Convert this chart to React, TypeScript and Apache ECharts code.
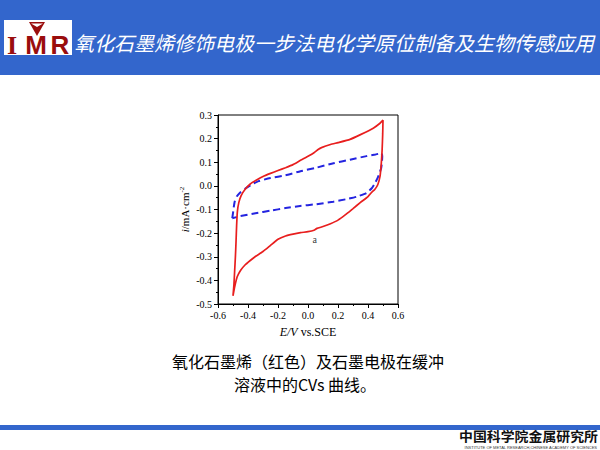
import React, { useEffect, useRef } from "react";
import * as echarts from "echarts";

const titleText = "氧化石墨烯修饰电极一步法电化学原位制备及生物传感应用";
const captionLines = ["氧化石墨烯（红色）及石墨电极在缓冲", "溶液中的CVs 曲线。"];
const footerCn = "中国科学院金属研究所";
const footerEn = "INSTITUTE OF METAL RESEARCH,CHINESE ACADEMY OF SCIENCES";
const logoLetters = ["I", "M", "R"];

const xMin = -0.6;
const xMax = 0.6;
const xStep = 0.2;
const yMin = -0.5;
const yMax = 0.3;
const yStep = 0.1;

// Graphene oxide electrode (red), E (V) / i (mA cm-2)
const redCurve: [number, number][] = [
  [-0.5, -0.465], [-0.494, -0.42], [-0.489, -0.36], [-0.484, -0.3], [-0.48, -0.24],
  [-0.476, -0.17], [-0.471, -0.11], [-0.461, -0.07], [-0.445, -0.04], [-0.42, -0.015],
  [-0.385, 0.008], [-0.34, 0.026], [-0.3, 0.04], [-0.25, 0.053], [-0.2, 0.065],
  [-0.15, 0.077], [-0.1, 0.09], [-0.05, 0.108], [0.0, 0.125], [0.04, 0.14],
  [0.07, 0.155], [0.09, 0.162], [0.15, 0.175], [0.2, 0.183], [0.28, 0.197],
  [0.35, 0.217], [0.435, 0.244], [0.48, 0.265], [0.5, 0.278],
  [0.498, 0.22], [0.494, 0.15], [0.488, 0.09], [0.48, 0.04], [0.465, 0.005],
  [0.445, -0.015], [0.425, -0.027], [0.4, -0.045], [0.35, -0.07], [0.3, -0.096],
  [0.25, -0.122], [0.2, -0.145], [0.15, -0.16], [0.1, -0.172], [0.06, -0.18],
  [0.04, -0.188], [0.0, -0.194], [-0.05, -0.198], [-0.1, -0.204], [-0.15, -0.212],
  [-0.2, -0.226], [-0.25, -0.252], [-0.3, -0.278], [-0.353, -0.3], [-0.385, -0.316],
  [-0.42, -0.335], [-0.45, -0.358], [-0.472, -0.385], [-0.488, -0.425], [-0.5, -0.465],
];

// Graphite electrode (blue dashed)
const blueCurve: [number, number][] = [
  [-0.505, -0.137], [-0.5, -0.115], [-0.495, -0.09], [-0.488, -0.065], [-0.475, -0.045],
  [-0.455, -0.03], [-0.42, -0.012], [-0.38, 0.004], [-0.33, 0.02], [-0.25, 0.033],
  [-0.15, 0.045], [-0.05, 0.062], [0.05, 0.076], [0.17, 0.096], [0.28, 0.111],
  [0.39, 0.126], [0.45, 0.133], [0.49, 0.138], [0.495, 0.125], [0.493, 0.1],
  [0.488, 0.075], [0.48, 0.06], [0.465, 0.035], [0.445, 0.01], [0.425, -0.01],
  [0.39, -0.03], [0.324, -0.046], [0.25, -0.057], [0.169, -0.067], [0.05, -0.078],
  [-0.053, -0.085], [-0.15, -0.094], [-0.25, -0.105], [-0.35, -0.116], [-0.45, -0.128],
  [-0.505, -0.137],
];

const curveLabelPoint: [number, number][] = [[0.045, -0.228]];
const curveLabel = "a";

const BLUE_BAND = "#3366cc";
const LOGO_RED = "#9a0d0d";
const SERIF = "'Liberation Serif', 'Times New Roman', serif";
const CJK = "'Noto Sans CJK SC', sans-serif";

const fmt = (v: number) => (Math.abs(v) < 1e-9 ? "0.0" : v.toFixed(1));

export default function App() {
  const ref = useRef<HTMLDivElement>(null);
  useEffect(() => {
    if (!ref.current) return;
    const chart = echarts.init(ref.current, undefined, { renderer: "svg" });
    const axisCommon = {
      axisLine: { show: true, onZero: false, lineStyle: { color: "#000", width: 1 } },
      axisTick: { show: true, inside: false, length: 4, lineStyle: { color: "#000" } },
      minorTick: { show: true, splitNumber: 2, length: 2, lineStyle: { color: "#000" } },
      splitLine: { show: false },
    };
    chart.setOption({
      animation: false,
      backgroundColor: "#fff",
      grid: {
        left: 218,
        top: 115,
        width: 180,
        height: 189,
        show: true,
        borderColor: "#000",
        borderWidth: 1,
        backgroundColor: "transparent",
      },
      xAxis: {
        type: "value",
        min: xMin,
        max: xMax,
        interval: xStep,
        ...axisCommon,
        axisLabel: { formatter: fmt, fontFamily: SERIF, fontSize: 10, color: "#000", margin: 6 },
        name: "{it|E/V} vs.SCE",
        nameLocation: "middle",
        nameGap: 22,
        nameTextStyle: {
          fontFamily: SERIF,
          fontSize: 12,
          color: "#000",
          rich: { it: { fontFamily: SERIF, fontSize: 12, fontStyle: "italic", color: "#000" } },
        },
      },
      yAxis: {
        type: "value",
        min: yMin,
        max: yMax,
        interval: yStep,
        ...axisCommon,
        axisLabel: { formatter: fmt, fontFamily: SERIF, fontSize: 10, color: "#000", margin: 6 },
        name: "{it|i}/mA·cm{sup|-2}",
        nameLocation: "middle",
        nameGap: 27,
        nameTextStyle: {
          fontFamily: SERIF,
          fontSize: 11,
          color: "#000",
          rich: {
            it: { fontFamily: SERIF, fontSize: 11, fontStyle: "italic", color: "#000" },
            sup: { fontFamily: SERIF, fontSize: 7, color: "#000", verticalAlign: "top", padding: [0, 0, 6, 0] },
          },
        },
      },
      series: [
        {
          type: "line",
          data: redCurve,
          showSymbol: false,
          symbol: "none",
          smooth: 0.15,
          lineStyle: { color: "#e81e1e", width: 1.7 },
          silent: true,
          z: 3,
        },
        {
          type: "line",
          data: blueCurve,
          showSymbol: false,
          symbol: "none",
          smooth: 0.15,
          lineStyle: { color: "#2424e0", width: 2, type: [7, 4] },
          silent: true,
          z: 2,
        },
        {
          type: "scatter",
          data: curveLabelPoint,
          symbolSize: 1,
          itemStyle: { color: "rgba(0,0,0,0)" },
          silent: true,
          label: {
            show: true,
            position: "inside",
            formatter: () => curveLabel,
            fontFamily: SERIF,
            fontSize: 10,
            color: "#000",
          },
        },
      ],
      graphic: [
        { type: "rect", shape: { x: 0, y: 0, width: 600, height: 75 }, style: { fill: BLUE_BAND }, z: 0 },
        { type: "rect", shape: { x: 4, y: 20, width: 68, height: 35 }, style: { fill: "#fff" }, z: 1 },
        {
          type: "polygon",
          shape: { points: [[29, 22], [45, 22], [37, 36]] },
          style: { fill: LOGO_RED },
          z: 2,
        },
        {
          type: "polygon",
          shape: { points: [[31, 23.5], [43, 23.5], [37, 27]] },
          style: { fill: "#fff" },
          z: 3,
        },
        {
          type: "text",
          x: 12,
          y: 45,
          style: {
            text: logoLetters[0],
            fill: LOGO_RED,
            font: "bold 26px 'Liberation Serif', serif",
            textAlign: "center",
            textVerticalAlign: "middle",
          },
          z: 2,
        },
        {
          type: "text",
          x: 36,
          y: 45,
          style: {
            text: logoLetters[1],
            fill: LOGO_RED,
            font: "bold 26px 'Liberation Sans', sans-serif",
            textAlign: "center",
            textVerticalAlign: "middle",
          },
          z: 2,
        },
        {
          type: "text",
          x: 60,
          y: 45,
          style: {
            text: logoLetters[2],
            fill: LOGO_RED,
            font: "bold 26px 'Liberation Sans', sans-serif",
            textAlign: "center",
            textVerticalAlign: "middle",
          },
          z: 2,
        },
        {
          type: "text",
          x: 74,
          y: 42,
          style: {
            text: titleText,
            fill: "#fff",
            font: `italic 20px ${CJK}`,
            textAlign: "left",
            textVerticalAlign: "middle",
          },
          z: 2,
        },
        {
          type: "text",
          x: 308,
          y: 361,
          style: {
            text: captionLines[0],
            fill: "#000",
            font: `16px ${CJK}`,
            lineHeight: 18,
            textAlign: "center",
            textVerticalAlign: "middle",
          },
        },
        {
          type: "text",
          x: 305,
          y: 384,
          style: {
            text: captionLines[1],
            fill: "#000",
            font: `16px ${CJK}`,
            lineHeight: 18,
            textAlign: "center",
            textVerticalAlign: "middle",
          },
        },
        { type: "rect", shape: { x: 0, y: 425, width: 600, height: 5 }, style: { fill: BLUE_BAND } },
        {
          type: "text",
          x: 598,
          y: 435,
          scaleX: 1.07,
          style: {
            text: footerCn,
            fill: "#111",
            font: `bold 13px ${CJK}`,
            lineHeight: 12,
            textAlign: "right",
            textVerticalAlign: "middle",
          },
        },
        {
          type: "text",
          x: 597,
          y: 447.5,
          style: {
            text: footerEn,
            fill: "#333",
            font: "4px 'Liberation Sans', sans-serif",
            lineHeight: 4,
            textAlign: "right",
            textVerticalAlign: "middle",
          },
        },
      ],
    });
    return () => chart.dispose();
  }, []);
  return (
    <div
      ref={ref}
      style={{ position: "fixed", left: 0, top: 0, width: 600, height: 450 }}
    />
  );
}
